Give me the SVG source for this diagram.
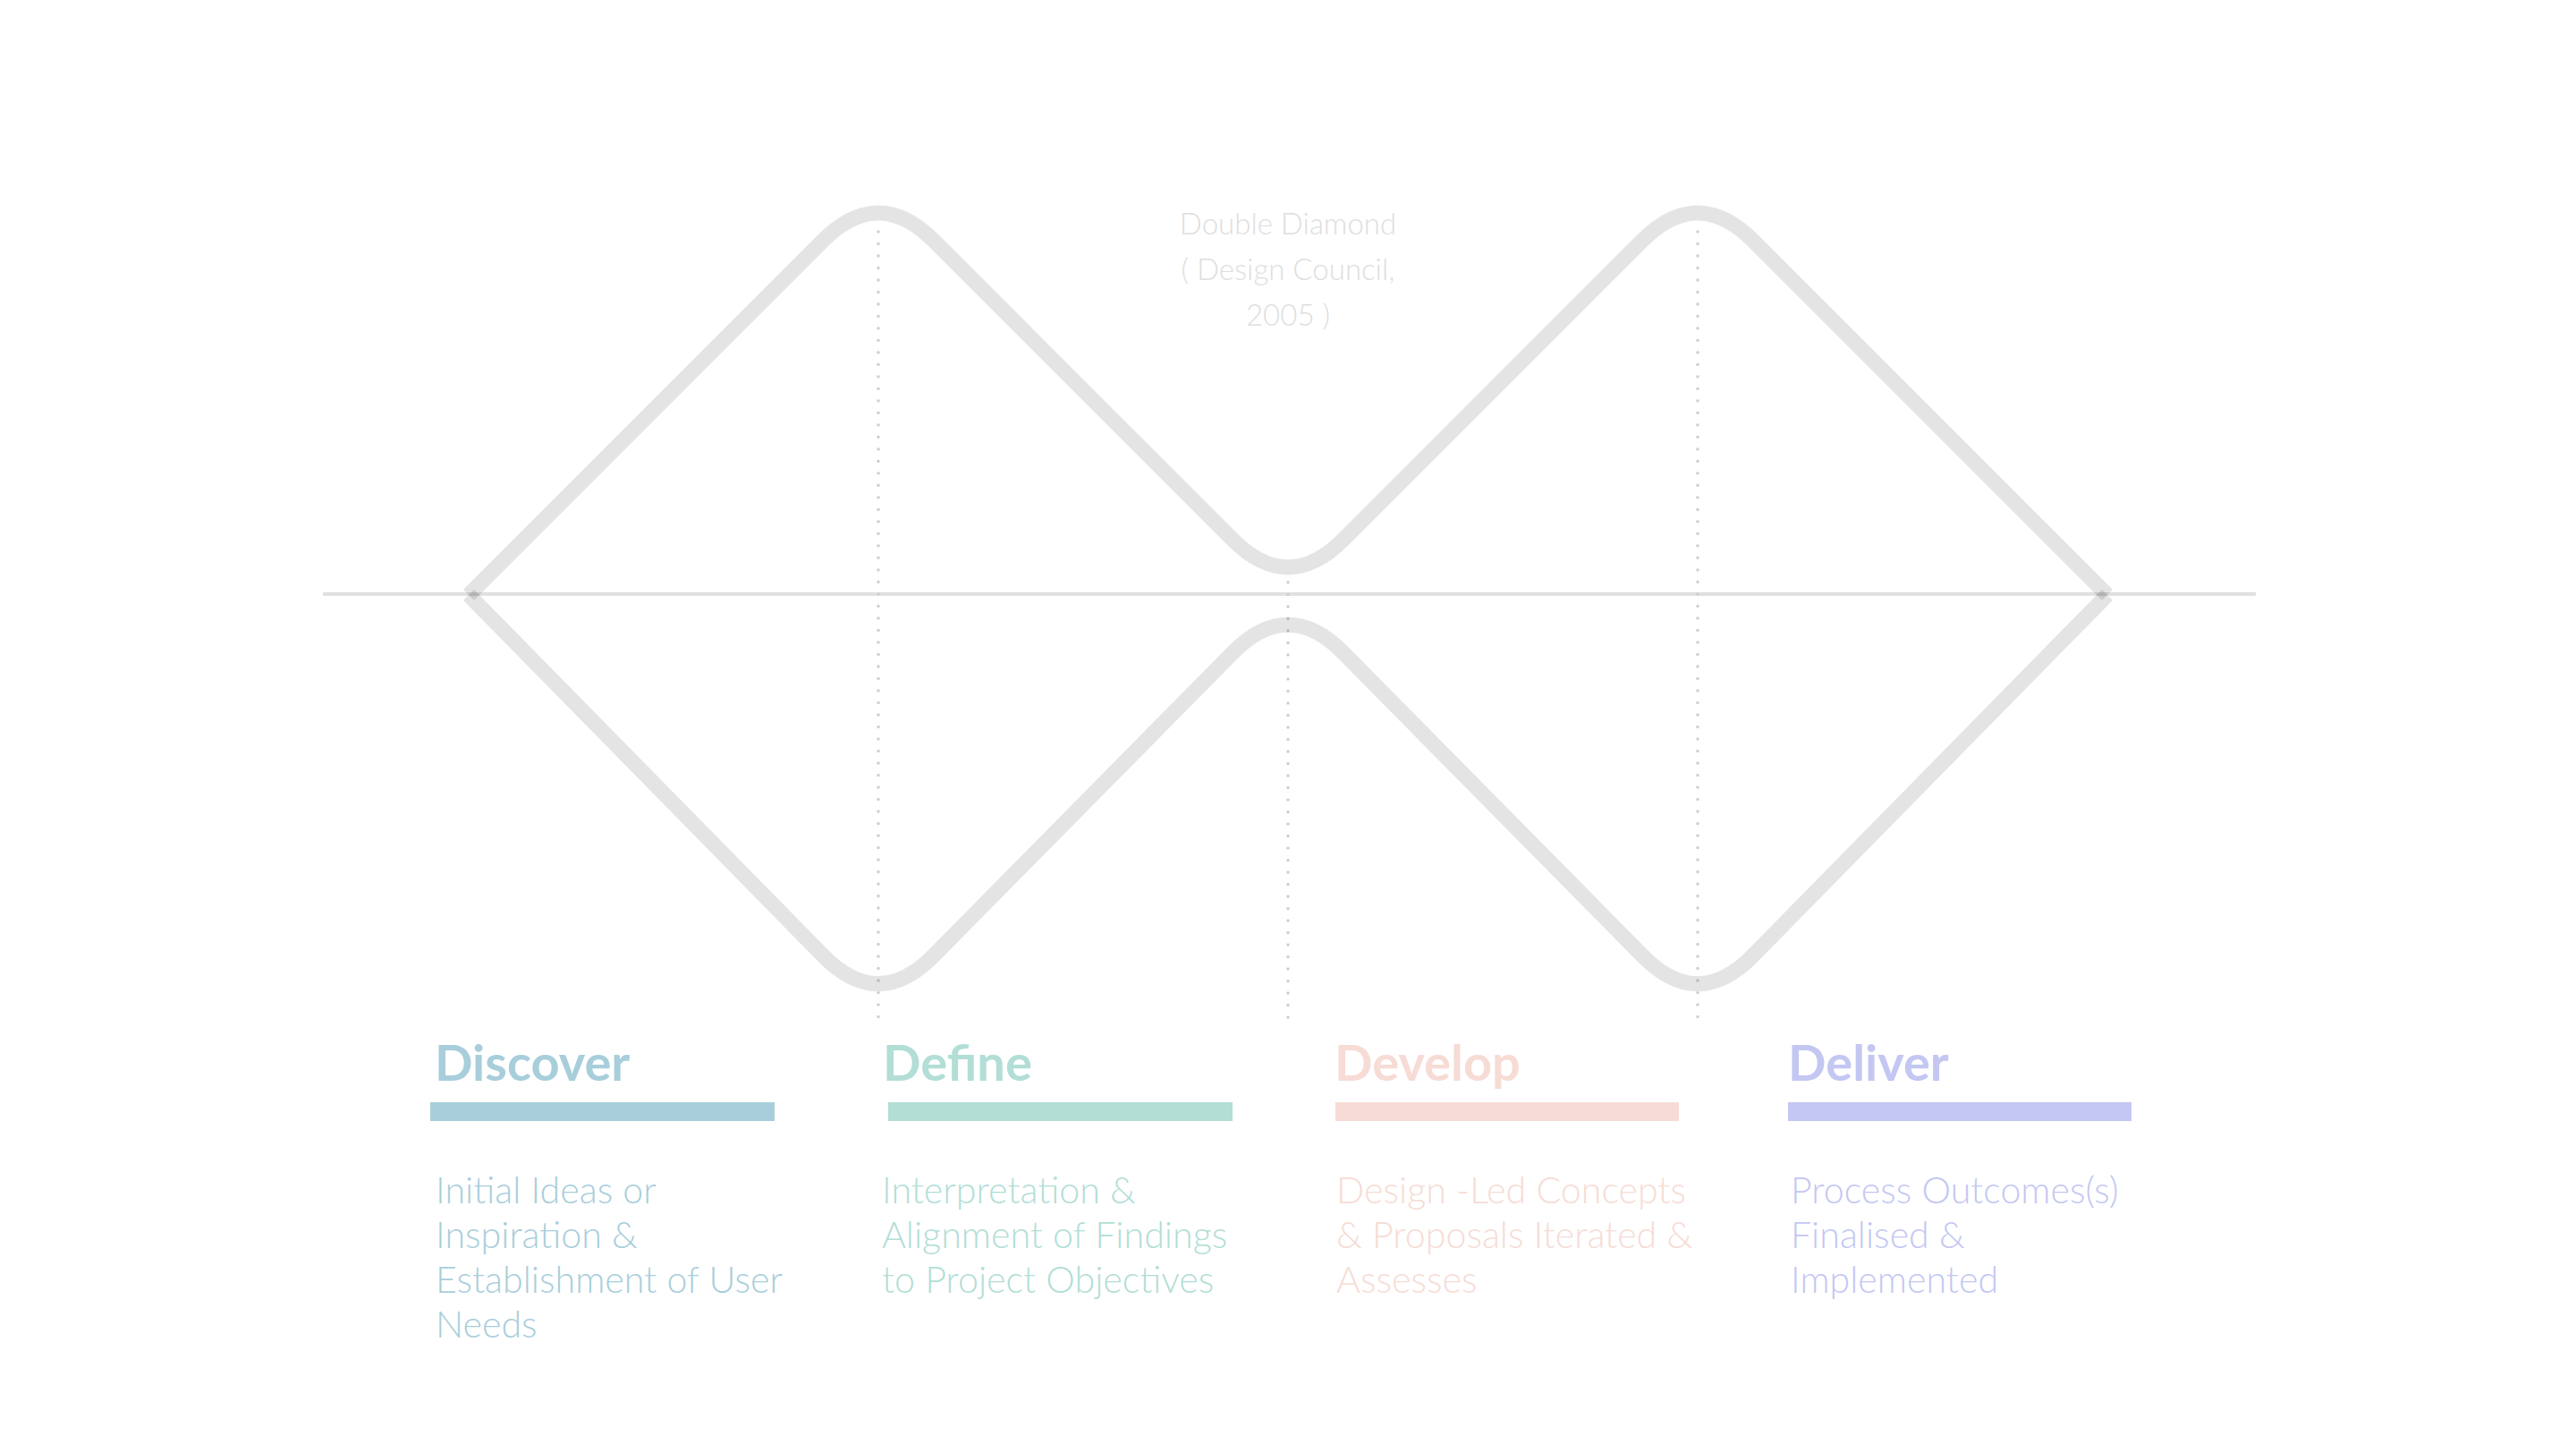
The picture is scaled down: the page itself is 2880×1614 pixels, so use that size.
<svg xmlns="http://www.w3.org/2000/svg" width="2880" height="1614" viewBox="0 0 2880 1614">
  <style>
    .shape { fill: none; stroke: #000; stroke-opacity: 0.105; stroke-width: 17; stroke-linejoin: miter; stroke-miterlimit: 10; }
    .axis { stroke: #000; stroke-opacity: 0.12; stroke-width: 4; }
    .guide { stroke: #cfcfcf; stroke-width: 3.5; stroke-linecap: round; stroke-dasharray: 0.1 13.4; }
    .title { font-family: Lato, "Liberation Sans", sans-serif; font-weight: 300; font-size: 33px; fill: #dedede; text-anchor: middle; }
    .head { font-family: Lato, "Liberation Sans", sans-serif; font-weight: 700; font-size: 56px; }
    .body { font-family: Lato, "Liberation Sans", sans-serif; font-weight: 300; font-size: 41.2px; }
    .c-discover { fill: #a8cedb; }
    .c-define { fill: #b2ded6; }
    .c-develop { fill: #f6dcd5; }
    .c-deliver { fill: #c3c7f2; }
  </style>
  <rect width="2880" height="1614" fill="#ffffff"/>

  <g id="axis">
    <line class="axis" x1="361" y1="664" x2="2522" y2="664"/>
  </g>

  <g id="guides">
    <line class="guide" x1="982" y1="259" x2="982" y2="1140"/>
    <line class="guide" x1="1440" y1="651" x2="1440" y2="1140"/>
    <line class="guide" x1="1898" y1="259" x2="1898" y2="1140"/>
  </g>

  <g id="diamond">
    <path class="shape" d="M 524 665 L 920 269 Q 982 207 1044 269 L 1378 603 Q 1440 665 1502 603 L 1836 269 Q 1898 207 1960 269 L 2356 665"/>
    <path class="shape" d="M 524 665 L 920.3 1068.2 Q 982 1131 1043.7 1068.2 L 1378.2 729.6 Q 1440 667 1501.8 729.6 L 1836.3 1068.2 Q 1898 1131 1959.7 1068.2 L 2356 665"/>
  </g>

  <g id="title">
    <text class="title" x="1440" y="262">Double Diamond</text>
    <text class="title" x="1440" y="313">( Design Council,</text>
    <text class="title" x="1440" y="364">2005 )</text>
  </g>

  <g id="phase-discover">
    <text class="head c-discover" x="486" y="1208">Discover</text>
    <rect class="c-discover" x="481" y="1232" width="385" height="21"/>
    <text class="body c-discover">
      <tspan x="487" y="1345">Initial Ideas or</tspan>
      <tspan x="487" y="1395">Inspiration &amp;</tspan>
      <tspan x="487" y="1445">Establishment of User</tspan>
      <tspan x="487" y="1495">Needs</tspan>
    </text>
  </g>

  <g id="phase-define">
    <text class="head c-define" x="987" y="1208">Define</text>
    <rect class="c-define" x="993" y="1232" width="385" height="21"/>
    <text class="body c-define">
      <tspan x="986" y="1345">Interpretation &amp;</tspan>
      <tspan x="986" y="1395">Alignment of Findings</tspan>
      <tspan x="986" y="1445">to Project Objectives</tspan>
    </text>
  </g>

  <g id="phase-develop">
    <text class="head c-develop" x="1492" y="1208">Develop</text>
    <rect class="c-develop" x="1493" y="1232" width="384" height="21"/>
    <text class="body c-develop">
      <tspan x="1494" y="1345">Design -Led Concepts</tspan>
      <tspan x="1494" y="1395">&amp; Proposals Iterated &amp;</tspan>
      <tspan x="1494" y="1445">Assesses</tspan>
    </text>
  </g>

  <g id="phase-deliver">
    <text class="head c-deliver" x="1999" y="1208">Deliver</text>
    <rect class="c-deliver" x="1999" y="1232" width="384" height="21"/>
    <text class="body c-deliver">
      <tspan x="2002" y="1345">Process Outcomes(s)</tspan>
      <tspan x="2002" y="1395">Finalised &amp;</tspan>
      <tspan x="2002" y="1445">Implemented</tspan>
    </text>
  </g>
</svg>
